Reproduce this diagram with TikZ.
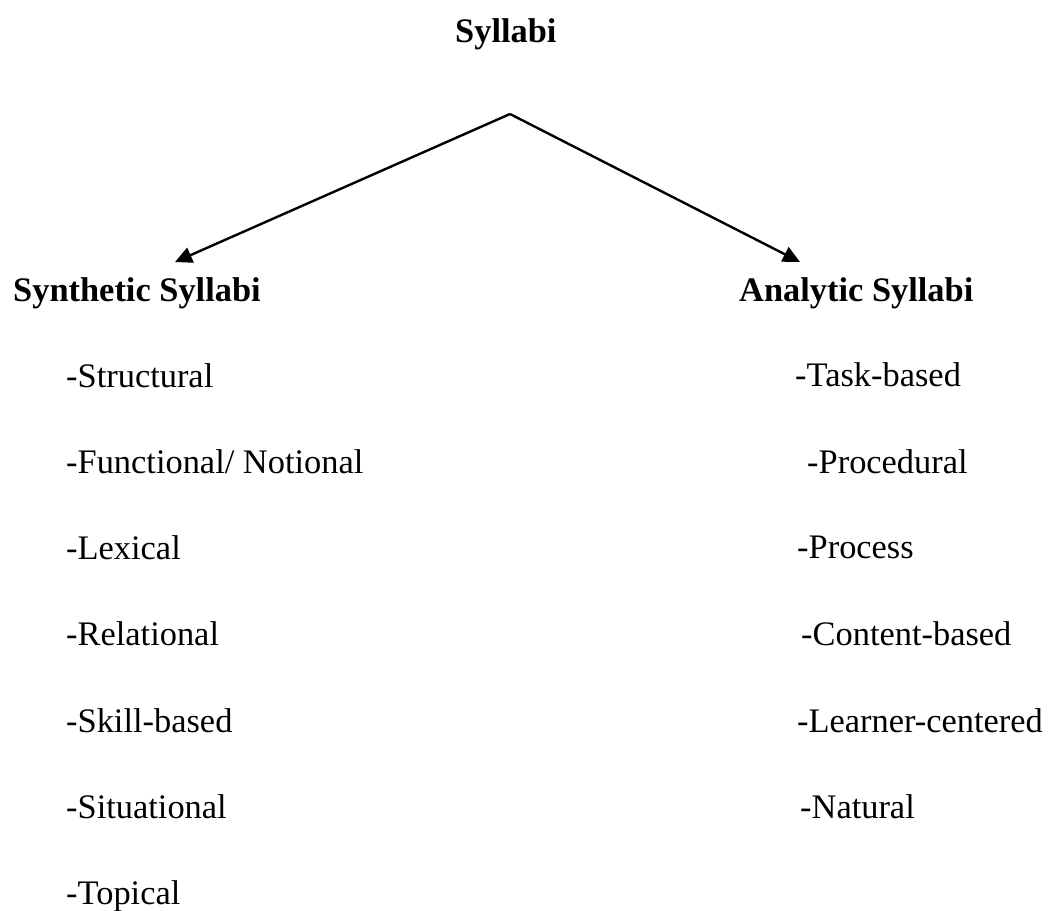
\documentclass[tikz,border=0pt]{standalone}
\usepackage{fontspec}
\setmainfont{Liberation Serif}
\usetikzlibrary{arrows.meta}
\begin{document}
\begin{tikzpicture}[x=1pt,y=-1pt,
  txt/.style={anchor=base west,inner sep=0pt,font=\fontsize{34.4}{40}\selectfont},
  head/.style={txt,font=\fontsize{34.4}{40}\selectfont\bfseries},
  link/.style={line width=2.4pt,-{Triangle[length=17pt,width=16pt]}}]
\useasboundingbox (0,0) rectangle (1048,910);
% title and the two branches
\node[head] (root) at (455,42) {Syllabi};
\node[head] (syn) at (13,301) {Synthetic Syllabi};
\node[head] (ana) at (739,301) {Analytic Syllabi};
\coordinate (apex) at (510,114);
\coordinate (synTip) at (175,262);
\coordinate (anaTip) at (800,262);
\draw[link] (apex) -- (synTip);
\draw[link] (apex) -- (anaTip);
% synthetic types
\node[txt] (s1) at (66,387) {-Structural};
\node[txt] (s2) at (66,473) {-Functional/ Notional};
\node[txt] (s3) at (66,559) {-Lexical};
\node[txt] (s4) at (66,645) {-Relational};
\node[txt] (s5) at (66,732) {-Skill-based};
\node[txt] (s6) at (66,818) {-Situational};
\node[txt] (s7) at (66,904) {-Topical};
% analytic types
\node[txt] (a1) at (795,386) {-Task-based};
\node[txt] (a2) at (807,473) {-Procedural};
\node[txt] (a3) at (797,558) {-Process};
\node[txt] (a4) at (801,645) {-Content-based};
\node[txt] (a5) at (797,732) {-Learner-centered};
\node[txt] (a6) at (800,818) {-Natural};
\end{tikzpicture}
\end{document}
